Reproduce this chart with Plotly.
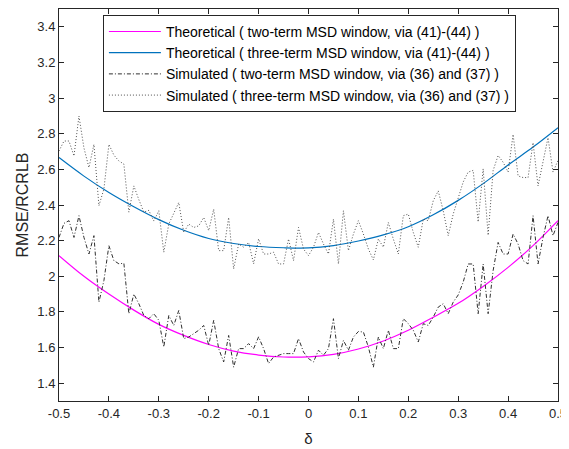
import numpy as np
import plotly.graph_objects as go

# x grid for simulated data (step 0.01 from -0.5 to 0.5)
delta_sim = [round(-0.5 + 0.01 * i, 2) for i in range(101)]

sim_two = [2.218, 2.297, 2.312, 2.218, 2.34, 2.218, 2.125, 2.228, 1.855, 1.976,
           2.172, 2.088, 2.07, 2.073, 1.79, 1.90, 1.846, 1.78, 1.762, 1.79,
           1.753, 1.603, 1.78, 1.724, 1.808, 1.65, 1.659, 1.678, 1.697, 1.724,
           1.612, 1.753, 1.594, 1.519, 1.668, 1.49, 1.594, 1.594, 1.622, 1.594,
           1.66, 1.594, 1.51, 1.547, 1.557, 1.566, 1.566, 1.566, 1.65, 1.575,
           1.538, 1.519, 1.585, 1.557, 1.594, 1.762, 1.538, 1.64, 1.585, 1.659,
           1.69, 1.687, 1.603, 1.49, 1.659, 1.594, 1.697, 1.594, 1.594, 1.762,
           1.734, 1.697, 1.631, 1.734, 1.724, 1.771, 1.827, 1.846, 1.79, 1.855,
           1.895, 1.967, 2.069, 2.069, 1.79, 2.069, 1.79, 2.032, 2.19, 2.125,
           2.125, 2.237, 2.181, 2.088, 2.069, 2.34, 2.069, 2.218, 2.34, 2.228,
           2.302]

sim_three = [2.703, 2.759, 2.759, 2.675, 2.899, 2.72, 2.61, 2.74, 2.396, 2.49,
             2.74, 2.68, 2.647, 2.63, 2.36, 2.507, 2.43, 2.36, 2.37, 2.31,
             2.368, 2.135, 2.293, 2.349, 2.414, 2.246, 2.293, 2.274, 2.283, 2.33,
             2.256, 2.377, 2.144, 2.144, 2.33, 2.041, 2.181, 2.163, 2.19, 2.07,
             2.21, 2.125, 2.125, 2.135, 2.069, 2.069, 2.209, 2.088, 2.274, 2.153,
             2.116, 2.163, 2.246, 2.181, 2.125, 2.321, 2.069, 2.368, 2.144, 2.237,
             2.312, 2.237, 2.153, 2.092, 2.209, 2.163, 2.302, 2.209, 2.125, 2.34,
             2.349, 2.246, 2.163, 2.321, 2.312, 2.424, 2.479, 2.368, 2.228, 2.349,
             2.44, 2.529, 2.585, 2.594, 2.305, 2.603, 2.23, 2.594, 2.678, 2.64,
             2.585, 2.796, 2.563, 2.554, 2.554, 2.75, 2.507, 2.638, 2.778, 2.585,
             2.65]

# theoretical curves sampled every 0.05
delta_th = [round(-0.5 + 0.05 * i, 2) for i in range(21)]
th_two = [2.116, 2.0, 1.90, 1.81, 1.73, 1.668, 1.617, 1.58, 1.558, 1.547, 1.548,
          1.562, 1.592, 1.637, 1.697, 1.77, 1.848, 1.943, 2.05, 2.172, 2.312]
th_three = [2.666, 2.562, 2.47, 2.39, 2.318, 2.258, 2.212, 2.184, 2.167, 2.16, 2.159,
            2.172, 2.198, 2.232, 2.278, 2.345, 2.426, 2.52, 2.625, 2.725, 2.834]

x_ticks = [-0.5, -0.4, -0.3, -0.2, -0.1, 0, 0.1, 0.2, 0.3, 0.4, 0.5]
x_ticklabels = ["-0.5", "-0.4", "-0.3", "-0.2", "-0.1", "0", "0.1", "0.2", "0.3", "0.4", "0.5"]
y_ticks = [1.4, 1.6, 1.8, 2.0, 2.2, 2.4, 2.6, 2.8, 3.0, 3.2, 3.4]
y_ticklabels = ["1.4", "1.6", "1.8", "2", "2.2", "2.4", "2.6", "2.8", "3", "3.2", "3.4"]

names = ["Theoretical ( two-term MSD window, via (41)-(44) )",
         "Theoretical ( three-term MSD window, via (41)-(44) )",
         "Simulated ( two-term MSD window, via (36) and (37) )",
         "Simulated ( three-term MSD window, via (36) and (37) )"]

FONT = "Liberation Sans, Arial, sans-serif"

fig = go.Figure()
fig.add_trace(go.Scatter(x=delta_th, y=th_two, mode="lines", name=names[0],
                         line=dict(color="#FF00FF", width=1.2, shape="spline")))
fig.add_trace(go.Scatter(x=delta_th, y=th_three, mode="lines", name=names[1],
                         line=dict(color="#0072BD", width=1.2, shape="spline")))
fig.add_trace(go.Scatter(x=delta_sim, y=sim_two, mode="lines", name=names[2],
                         line=dict(color="#303030", width=1, dash="4px,2px,1px,2px")))
fig.add_trace(go.Scatter(x=delta_sim, y=sim_three, mode="lines", name=names[3],
                         line=dict(color="#505050", width=1, dash="1px,2px")))

axis_common = dict(showline=True, linecolor="#262626", linewidth=1, mirror="ticks",
                   ticks="inside", ticklen=5, tickcolor="#262626", showgrid=False,
                   zeroline=False, automargin=False,
                   tickfont=dict(family=FONT, size=13, color="#262626"))

fig.update_xaxes(range=[-0.5, 0.5], tickvals=x_ticks, ticktext=x_ticklabels,
                 title=dict(text="δ", font=dict(family=FONT, size=15, color="#262626"), standoff=13),
                 **axis_common)
fig.update_yaxes(range=[1.3, 3.5], tickvals=y_ticks, ticktext=y_ticklabels,
                 title=dict(text="RMSE/RCRLB", font=dict(family=FONT, size=16, color="#262626"), standoff=4),
                 **axis_common)

# page body has an 8px margin, so the figure is sized to the visible area
fig.update_layout(
    width=561, height=441,
    margin=dict(l=51, r=11, t=1, b=48),
    paper_bgcolor="white", plot_bgcolor="white",
    showlegend=True,
    legend=dict(x=0.088, y=0.985, xanchor="left", yanchor="top",
                bgcolor="white", bordercolor="#262626", borderwidth=1,
                font=dict(family=FONT, size=14, color="#000000"),
                itemwidth=52, tracegroupgap=0),
)

fig.write_html("out.html")
